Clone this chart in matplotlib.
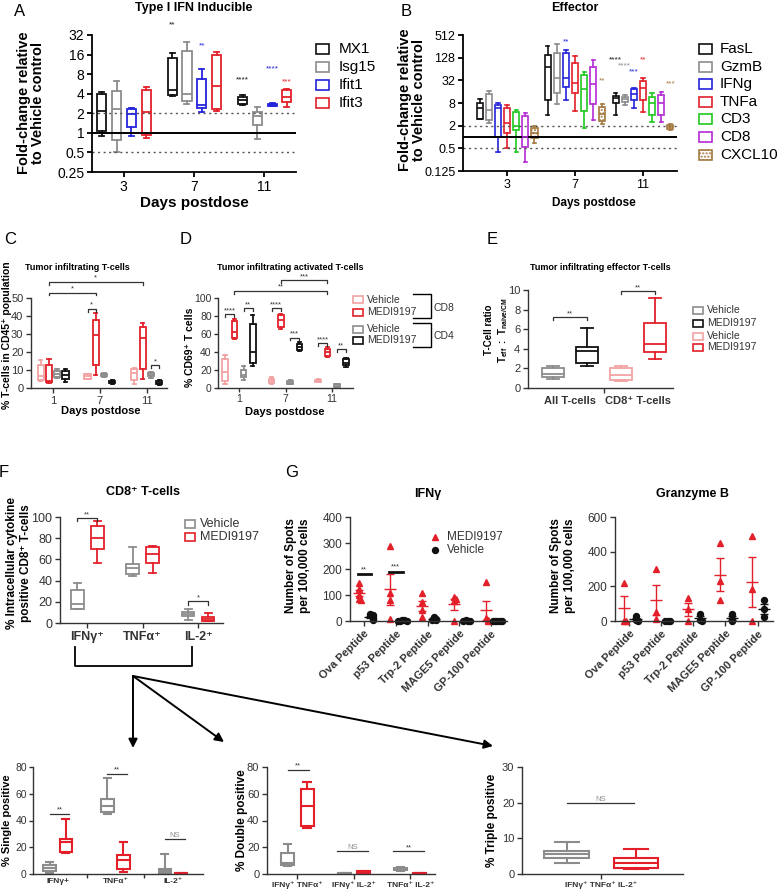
import numpy as np
import matplotlib
matplotlib.use('Agg')
import matplotlib.pyplot as plt
from matplotlib.patches import Rectangle, FancyArrowPatch
from matplotlib.lines import Line2D

plt.rcParams['font.family'] = ['Liberation Sans', 'DejaVu Sans']
plt.rcParams['mathtext.fontset'] = 'custom'
plt.rcParams['mathtext.rm'] = 'Liberation Sans'
plt.rcParams['mathtext.bf'] = 'Liberation Sans:bold'

# ---------------- data ----------------
# box rows: [whisker low, q1, median, q3, whisker high], one row per group
A_days = ['3', '7', '11']
A_genes = ['MX1', 'Isg15', 'Ifit1', 'Ifit3']
A_MX1 = [[0.9, 1.07, 2.15, 3.9, 4.3], [3.7, 3.8, 4.5, 14, 17], [2.7, 2.8, 3.2, 3.6, 3.8]]
A_Isg15 = [[0.5, 0.77, 2.3, 4.4, 6.2], [2.8, 3.1, 4.0, 18, 25], [0.8, 1.3, 1.8, 2.1, 2.5]]
A_Ifit1 = [[0.9, 1.25, 1.95, 2.3, 2.4], [2.1, 2.4, 2.7, 6.8, 9.5], [2.55, 2.6, 2.7, 2.8, 2.85]]
A_Ifit3 = [[0.83, 0.92, 2.1, 4.5, 5.0], [2.2, 2.3, 5.3, 16, 17.5], [2.5, 3.0, 3.6, 4.5, 4.8]]
A_stars = [(1, 0, '**', 45), (1, 2, '**', 22), (2, 0, '****', 6.5), (2, 2, '****', 9.5), (2, 3, '***', 6)]

B_days = ['3', '7', '11']
B_genes = ['FasL', 'GzmB', 'IFNg', 'TNFa', 'CD3', 'CD8', 'CXCL10']
B_FasL = [[3, 3.1, 5.8, 8.2, 10], [3.8, 9.6, 74, 151, 267], [3.8, 7.8, 10.6, 12.5, 14.4]]
B_GzmB = [[2.3, 2.9, 5.2, 13.6, 16.7], [7.4, 15, 36, 167, 290], [7, 8.6, 10.2, 11.8, 13]]
B_IFNg = [[0.4, 1.0, 5.8, 7, 8.2], [9.6, 21, 37, 174, 205], [5.8, 9.6, 14, 18.4, 19.7]]
B_TNFa = [[0.5, 1.3, 2.4, 6, 7], [4.9, 15, 28, 94, 142], [4.7, 9.6, 19.7, 31, 36]]
B_CD3 = [[0.4, 1.5, 2, 4.5, 5.2], [1.76, 4.9, 18.4, 44, 52], [2.5, 3.8, 7.9, 11.8, 14.4]]
B_CD8 = [[0.22, 0.55, 1.0, 3.6, 4.3], [2.8, 7.4, 25, 74, 111], [2.5, 3.8, 7.9, 13, 16]]
B_CXCL10 = [[0.68, 0.92, 1.25, 1.7, 1.96], [2.2, 2.6, 4, 6.1, 7.4], [1.5, 1.6, 1.9, 2.1, 2.2]]
B_stars = [(1, 2, '**', 340), (1, 6, '**', 31), (2, 0, '****', 111), (2, 1, '****', 77),
           (2, 2, '***', 55), (2, 3, '**', 111), (2, 6, '***', 25)]

C_days = ['1', '7', '11']
C_cd8_veh = [[3.7, 4.6, 6.7, 13, 15.7], [4.8, 5.2, 6.7, 7.6, 8], [2, 4.6, 8.5, 10.7, 11.1]]
C_cd8_medi = [[3, 3.5, 4, 13, 15.9], [7, 13, 29.3, 38, 41.7], [4.8, 10.7, 28, 33.9, 36.3]]
C_cd4_veh = [[5.6, 6.3, 7.8, 9.3, 10.4], [6.3, 6.6, 7.2, 7.8, 8.1], [5.6, 6.5, 7.4, 8.3, 8.9]]
C_cd4_medi = [[3.3, 4.8, 7, 9.4, 10.7], [2.2, 2.6, 3.3, 4.1, 4.6], [1.9, 2.2, 2.8, 3.7, 4.3]]

D_days = ['1', '7', '11']
D_cd8_veh = [[5, 7.5, 18, 32, 37], [5, 6, 8, 10, 12], [6.5, 7, 8, 9, 9.5]]
D_cd8_medi = [[55, 56, 62, 74, 77], [66, 68, 76, 81, 82], [35, 36, 39.5, 43, 46]]
D_cd4_veh = [[9, 12, 15, 20, 24], [4, 4.5, 6, 7.5, 9], [1, 1.5, 2.5, 4, 5]]
D_cd4_medi = [[25, 28, 40, 71, 81], [41, 42, 46, 48.5, 51], [23.5, 25.5, 28, 32, 33]]

E_groups = ['All T-cells', 'CD8⁺ T-cells']
E_all_veh = [0.96, 1.13, 1.47, 2.05, 2.25]
E_all_medi = [2.25, 2.6, 3.75, 4.2, 6.1]
E_cd8_veh = [0.7, 0.85, 1.3, 2.0, 2.25]
E_cd8_medi = [3.0, 3.7, 4.45, 6.6, 9.15]

F_cytokines = ['IFNγ⁺', 'TNFα⁺', 'IL-2⁺']
F_veh = [[13, 13.2, 17.6, 31.4, 37.7], [44.3, 46.5, 52, 56, 71.7], [3.1, 6.6, 8.8, 10.4, 13]]
F_medi = [[57, 70, 80.5, 91.5, 96], [47, 56.6, 64.8, 71.7, 73], [1.6, 1.9, 3.5, 5.7, 9.7]]

G_peptides = ['Ova Peptide', 'p53 Peptide', 'Trp-2 Peptide', 'MAGE5 Peptide', 'GP-100 Peptide']
G_ifng_medi = [[148, 125, 100, 86, 80], [290, 106, 80, 9], [106, 74, 41, 15], [92, 86, 76, 0], [151, 10, 3, 0]]
G_ifng_veh = [[28, 22, 15, 8, 3], [3, 2, 1, 0, 0], [15, 8, 4, 2], [2, 1, 0, 0], [1, 0, 0, 0, 0]]
G_gzmb_medi = [[220, 0, 0], [298, 52, 14], [130, 70, 0], [448, 232, 120], [490, 182, 0]]
G_gzmb_veh = [[28, 3, 0], [0, 0, 0], [40, 5, 0], [42, 14, 0], [120, 68, 23]]

S_groups = ['IFNγ+', 'TNFα⁺', 'IL-2⁺']
S_veh = [[1, 2.2, 4.2, 6.7, 8.7], [44.7, 46.4, 50.6, 56, 72], [0.5, 1, 2.2, 3.7, 14.6]]
S_medi = [[15.9, 16.6, 24, 25.8, 41], [1.7, 3.7, 10.4, 14, 23.6], [0.2, 0.3, 0.5, 0.8, 1.0]]
DP_groups = ['IFNγ⁺ TNFα⁺', 'IFNγ⁺ IL-2⁺', 'TNFα⁺ IL-2⁺']
DP_veh = [[6, 6.7, 8.4, 15.9, 22.8], [0.2, 0.3, 0.5, 0.7, 0.9], [2.5, 3, 4, 4.7, 5.5]]
DP_medi = [[34.7, 35.7, 50.9, 63.8, 69], [0.5, 0.8, 1.3, 2, 2.5], [0.2, 0.3, 0.5, 0.7, 0.9]]
TP_groups = ['IFNγ⁺ TNFα⁺ IL-2⁺']
TP_veh = [3.2, 4.4, 5.5, 6.5, 9.1]
TP_medi = [1.3, 1.8, 3.0, 4.6, 7.0]

# ---------------- colours ----------------
BLACK = '#111111'
GREY = '#8c8c8c'
BLUE = '#2424dc'
RED = '#e3202a'
GREEN = '#20c820'
PURPLE = '#b42ad6'
BROWN = '#a67a40'
PINK = '#f2a2a2'
DARK = '#333333'

W, H = 778, 890
fig = plt.figure(figsize=(W / 100, H / 100), dpi=100)


def px_axes(l, t, r, b, fs, color='black', lw=1.2, tlen=3.5, pad=2):
    ax = fig.add_axes([l / W, 1 - b / H, (r - l) / W, (b - t) / H])
    for s in ['top', 'right']:
        ax.spines[s].set_visible(False)
    for s in ['left', 'bottom']:
        ax.spines[s].set_linewidth(lw)
        ax.spines[s].set_color(color)
    ax.tick_params(labelsize=fs, colors=color, width=lw, length=tlen, pad=pad)
    return ax


def T(x, y, s, **kw):
    kw.setdefault('ha', 'center')
    kw.setdefault('va', 'center')
    return fig.text(x / W, 1 - y / H, s, **kw)


def boxes(ax, rows, pos, color, width, lw=1.3, hatch=None):
    stats = [dict(whislo=r[0], q1=r[1], med=r[2], q3=r[3], whishi=r[4]) for r in rows]
    ax.bxp(stats, positions=pos, widths=width, capwidths=width * 0.55, showfliers=False,
           patch_artist=True, manage_ticks=False,
           boxprops=dict(facecolor='none', edgecolor=color, linewidth=lw, hatch=hatch),
           medianprops=dict(color=color, linewidth=lw),
           whiskerprops=dict(color=color, linewidth=lw),
           capprops=dict(color=color, linewidth=lw))


def bracket(ax, x1, x2, y, s, drop, fs=5.5, color=DARK, lw=0.9, tcolor=None):
    ax.plot([x1, x1, x2, x2], [y - drop, y, y, y - drop], color=color, lw=lw, clip_on=False)
    ax.text((x1 + x2) / 2, y, s, ha='center', va='bottom', fontsize=fs,
            color=tcolor or color, clip_on=False)


def key_box(x, y, w, h, color, hatch=None, lw=1.2):
    fig.add_artist(Rectangle((x / W, 1 - (y + h / 2) / H), w / W, h / H, transform=fig.transFigure,
                             facecolor='none', edgecolor=color, lw=lw, hatch=hatch))


def key_marker(x, y, marker, ms, color):
    fig.add_artist(Line2D([x / W], [1 - y / H], transform=fig.transFigure, ls='none',
                          marker=marker, ms=ms, color=color))


def fig_line(xs, ys, lw=1.3):
    fig.add_artist(Line2D([x / W for x in xs], [1 - y / H for y in ys], transform=fig.transFigure,
                          color='black', lw=lw))


def fig_arrow(p0, p1):
    fig.add_artist(FancyArrowPatch((p0[0] / W, 1 - p0[1] / H), (p1[0] / W, 1 - p1[1] / H),
                                   transform=fig.transFigure, arrowstyle='-|>', mutation_scale=13,
                                   lw=1.4, color='black', shrinkA=0, shrinkB=0))


def log2_axis(ax, ticks, labels):
    ax.set_yscale('log', base=2)
    ax.set_yticks(ticks)
    ax.set_yticklabels(labels)
    ax.yaxis.set_minor_locator(matplotlib.ticker.NullLocator())


# ---------------- A ----------------
axA = px_axes(92, 35, 296, 172, 10, lw=1.3)
A_series = [A_MX1, A_Isg15, A_Ifit1, A_Ifit3]
A_colors = [BLACK, GREY, BLUE, RED]
A_off = [-0.31, -0.1, 0.11, 0.32]
for ser, c, o in zip(A_series, A_colors, A_off):
    boxes(axA, ser, [g + o for g in range(3)], c, 0.13)
for g, i, s, y in A_stars:
    axA.text(g + A_off[i], y, s, ha='center', va='center', fontsize=6, color=A_colors[i], clip_on=False)
axA.axhline(1, color='black', lw=1.4)
for yv in (2, 0.5):
    axA.axhline(yv, color='#555555', lw=1.0, ls=(0, (1.5, 2.5)))
log2_axis(axA, [0.25, 0.5, 1, 2, 4, 8, 16, 32], ['0.25', '0.5', '1', '2', '4', '8', '16', '32'])
axA.set_ylim(0.25, 32)
axA.set_xlim(-0.45, 2.45)
axA.set_xticks(range(3))
axA.set_xticklabels(A_days)
T(194, 8, 'Type I IFN Inducible', fontsize=9, fontweight='bold')
T(31, 103, 'Fold-change relative\nto Vehicle control', rotation=90, fontsize=10.5,
  fontweight='bold', linespacing=1.05)
T(194, 203, 'Days postdose', fontsize=11, fontweight='bold')
for k, (name, c) in enumerate(zip(A_genes, A_colors)):
    yk = 49 + k * 18
    key_box(316, yk, 13, 10, c)
    T(339, yk, name, fontsize=11, ha='left')

# ---------------- B ----------------
axB = px_axes(463, 35, 677, 171, 9, lw=1.3)
B_series = [B_FasL, B_GzmB, B_IFNg, B_TNFa, B_CD3, B_CD8, B_CXCL10]
B_colors = [BLACK, GREY, BLUE, RED, GREEN, PURPLE, BROWN]
B_off = [(i - 3) * 0.134 for i in range(7)]
for i, (ser, c, o) in enumerate(zip(B_series, B_colors, B_off)):
    boxes(axB, ser, [g + o for g in range(3)], c, 0.09, lw=1.2, hatch='.....' if i == 6 else None)
for g, i, s, y in B_stars:
    axB.text(g + B_off[i], y, s, ha='center', va='center', fontsize=6, color=B_colors[i], clip_on=False)
axB.axhline(1, color='black', lw=1.4)
for yv in (2, 0.5):
    axB.axhline(yv, color='#555555', lw=1.0, ls=(0, (1.5, 2.5)))
log2_axis(axB, [0.125, 0.5, 2, 8, 32, 128, 512], ['0.125', '0.5', '2', '8', '32', '128', '512'])
axB.set_ylim(0.125, 512)
axB.set_xlim(-0.65, 2.5)
axB.set_xticks(range(3))
axB.set_xticklabels(B_days)
T(575, 8, 'Effector', fontsize=9, fontweight='bold')
T(412, 100, 'Fold-change relative\nto Vehicle control', rotation=90, fontsize=10.5,
  fontweight='bold', linespacing=1.05)
T(594, 203, 'Days postdose', fontsize=8.5, fontweight='bold')
for k, (name, c) in enumerate(zip(B_genes, B_colors)):
    yk = 49 + k * 17.6
    key_box(699, yk, 13, 10, c, hatch='.....' if k == 6 else None)
    T(720, yk, name, fontsize=11, ha='left')

# ---------------- C ----------------
axC = px_axes(31, 298, 167, 388, 8, color=DARK, lw=1.0)
C_series = [C_cd8_veh, C_cd8_medi, C_cd4_veh, C_cd4_medi]
C_colors = [PINK, RED, GREY, BLACK]
C_off = [-0.265, -0.088, 0.088, 0.265]
for ser, c, o in zip(C_series, C_colors, C_off):
    boxes(axC, ser, [g + o for g in range(3)], c, 0.13, lw=1.3)
bracket(axC, C_off[1], 2 + C_off[1], 59, '*', 1.5)
bracket(axC, C_off[1], 1 + C_off[1], 53, '*', 1.5)
bracket(axC, 1 + C_off[0], 1 + C_off[1], 44, '*', 1.5)
bracket(axC, 2 + C_off[2], 2 + C_off[3], 12.6, '*', 1.5)
axC.set_ylim(0, 50)
axC.set_yticks(range(0, 51, 10))
axC.set_xlim(-0.47, 2.43)
axC.set_xticks(range(3))
axC.set_xticklabels(C_days)
T(77, 268, 'Tumor infiltrating T-cells', fontsize=6.5, fontweight='bold')
T(7, 335, '% T-cells in CD45⁺ population', rotation=90, fontsize=7.5, fontweight='bold')
T(101, 411, 'Days postdose', fontsize=8, fontweight='bold')

# ---------------- D ----------------
axD = px_axes(218, 298, 353, 388, 7.5, color=DARK, lw=1.0, tlen=3, pad=1.5)
D_series = [D_cd8_veh, D_cd8_medi, D_cd4_veh, D_cd4_medi]
D_colors = [PINK, RED, GREY, BLACK]
D_off = [-0.3, -0.1, 0.1, 0.3]
for ser, c, o in zip(D_series, D_colors, D_off):
    boxes(axD, ser, [g + o for g in range(3)], c, 0.12, lw=1.3)
bracket(axD, 1 + D_off[1], 2 + D_off[1], 120, '***', 3)
bracket(axD, D_off[1], 2 + D_off[1], 108, '**', 3)
for g, pair, y, s in [(0, (0, 1), 82, '****'), (0, (2, 3), 89, '**'), (1, (0, 1), 89, '****'),
                      (1, (2, 3), 56, '***'), (2, (0, 1), 50, '****'), (2, (2, 3), 43, '**')]:
    bracket(axD, g + D_off[pair[0]], g + D_off[pair[1]], y, s, 3)
axD.set_ylim(0, 100)
axD.set_yticks(range(0, 101, 20))
axD.set_xlim(-0.45, 2.45)
axD.set_xticks(range(3))
axD.set_xticklabels(D_days)
T(290, 268, 'Tumor infiltrating activated T-cells', fontsize=6.5, fontweight='bold')
T(190, 347, '% CD69⁺ T cells', rotation=90, fontsize=7.5, fontweight='bold')
T(285, 412, 'Days postdose', fontsize=8, fontweight='bold')
for name, c, yk in zip(['Vehicle', 'MEDI9197', 'Vehicle', 'MEDI9197'],
                       [PINK, RED, GREY, BLACK], [300, 312, 329, 340]):
    key_box(353, yk, 10, 7, c)
    T(367, yk, name, fontsize=7.5, ha='left', color=DARK)
fig_line([413, 431, 431, 413], [294, 294, 318, 318], lw=1.0)
fig_line([413, 431, 431, 413], [323, 323, 347, 347], lw=1.0)
T(433, 308, 'CD8', fontsize=7.5, ha='left', color=DARK)
T(433, 336, 'CD4', fontsize=7.5, ha='left', color=DARK)

# ---------------- E ----------------
axE = px_axes(528, 290, 673, 388, 8, color=DARK, lw=1.0)
E_rows = [E_all_veh, E_all_medi, E_cd8_veh, E_cd8_medi]
E_colors = [GREY, BLACK, PINK, RED]
for k, (r, c) in enumerate(zip(E_rows, E_colors)):
    boxes(axE, [r], [k], c, 0.65, lw=1.3)
bracket(axE, 0, 1, 7.2, '**', 0.3)
bracket(axE, 2, 3, 9.9, '**', 0.3)
axE.set_ylim(0, 10)
axE.set_yticks(range(0, 11, 2))
axE.set_xlim(-0.74, 3.53)
axE.set_xticks([1.5])
axE.set_xticklabels([''])
axE.set_xticks([0.5, 2.5], minor=True)
axE.set_xticklabels(E_groups, minor=True, fontsize=8, fontweight='bold')
axE.tick_params(axis='x', which='minor', length=0, pad=6, colors=DARK)
T(600, 268, 'Tumor infiltrating effector T-cells', fontsize=6.5, fontweight='bold')
T(497, 330, 'T-Cell ratio\n' + r'$\mathbf{T_{eff}\ :\ T_{naive/CM}}$', rotation=90, fontsize=7,
  fontweight='bold', linespacing=1.2)
for name, c, yk in zip(['Vehicle', 'MEDI9197', 'Vehicle', 'MEDI9197'],
                       [GREY, BLACK, PINK, RED], [310, 323, 336, 347]):
    key_box(693, yk, 10, 7, c)
    T(707, yk, name, fontsize=7.5, ha='left', color=DARK)

# ---------------- F ----------------
axF = px_axes(60, 517, 223, 623, 9, color=DARK, lw=1.0)
boxes(axF, F_veh, [g - 0.18 for g in range(3)], GREY, 0.23, lw=1.3)
boxes(axF, F_medi, [g + 0.18 for g in range(3)], RED, 0.23, lw=1.3)
bracket(axF, -0.18, 0.18, 99, '**', 3)
bracket(axF, 1.82, 2.18, 20.4, '*', 3)
axF.set_ylim(0, 100)
axF.set_yticks(range(0, 101, 20))
axF.set_xlim(-0.49, 2.45)
axF.set_xticks(range(3))
axF.set_xticklabels(F_cytokines, fontweight='bold', fontsize=9)
T(143, 492, 'CD8⁺ T-cells', fontsize=9, fontweight='bold')
T(19, 563, '% Intracellular cytokine\npositive CD8⁺ T-cells', rotation=90, fontsize=8.5,
  fontweight='bold', linespacing=1.3)
key_box(185, 524, 10, 8, GREY)
T(200, 524, 'Vehicle', fontsize=9, ha='left', color=DARK)
key_box(185, 537, 10, 8, RED)
T(200, 537, 'MEDI9197', fontsize=9, ha='left', color=DARK)

# bracket and arrows below F
fig_line([75, 75, 192, 192], [647, 666, 666, 647])
fig_arrow((133, 676), (133, 748))
fig_arrow((133, 676), (224, 742))
fig_arrow((133, 676), (493, 746))


# ---------------- G ----------------
def dodge(vals, step, tol):
    offs, placed = [], []
    for v in vals:
        k = sum(1 for p in placed if abs(p - v) < tol)
        placed.append(v)
        offs.append(((k + 1) // 2) * step * (1 if k % 2 else -1) if k else 0.0)
    return np.array(offs)


def spots(ax, medi, veh, tol):
    for g, (m, v) in enumerate(zip(medi, veh)):
        for vals, dx, c, mk, ms in [(m, -0.17, RED, '^', 5), (v, 0.2, BLACK, 'o', 4.3)]:
            vals = np.array(vals, float)
            x = g + dx
            ax.plot(x + dodge(vals, 0.07, tol), vals, ls='none', marker=mk, ms=ms, color=c, clip_on=False)
            mean = vals.mean()
            sem = vals.std(ddof=1) / np.sqrt(len(vals))
            ax.hlines(mean, x - 0.19, x + 0.19, color=c, lw=1)
            ax.errorbar(x, mean, yerr=sem, fmt='none', ecolor=c, elinewidth=1, capsize=3, capthick=1)


axG1 = px_axes(350, 517, 507, 621, 8.5, color=DARK, lw=1.0)
spots(axG1, G_ifng_medi, G_ifng_veh, 8)
axG1.plot([-0.2, 0.22], [180, 180], color=BLACK, lw=2)
axG1.text(0.0, 183, '**', ha='center', va='bottom', fontsize=5.5, color=DARK)
axG1.plot([0.8, 1.22], [190, 190], color=BLACK, lw=2)
axG1.text(1.0, 193, '***', ha='center', va='bottom', fontsize=5.5, color=DARK)
axG1.set_ylim(0, 400)
axG1.set_yticks(range(0, 401, 100))
axG1.set_xlim(-0.44, 4.5)
axG1.set_xticks(range(5))
axG1.set_xticklabels(G_peptides, rotation=45, ha='right', rotation_mode='anchor',
                     fontsize=8, fontweight='bold')
T(428, 494, 'IFNγ', fontsize=9, fontweight='bold')
T(298, 566, 'Number of Spots\nper 100,000 cells', rotation=90, fontsize=8.5, fontweight='bold',
  linespacing=1.2)
key_marker(435, 537, '^', 5, RED)
T(447, 537, 'MEDI9197', fontsize=8.5, ha='left', color=DARK)
key_marker(435, 550, 'o', 4.3, BLACK)
T(447, 550, 'Vehicle', fontsize=8.5, ha='left', color=DARK)

axG2 = px_axes(615, 517, 773, 621, 8.5, color=DARK, lw=1.0)
spots(axG2, G_gzmb_medi, G_gzmb_veh, 12)
axG2.set_ylim(0, 600)
axG2.set_yticks(range(0, 601, 200))
axG2.set_xlim(-0.44, 4.48)
axG2.set_xticks(range(5))
axG2.set_xticklabels(G_peptides, rotation=45, ha='right', rotation_mode='anchor',
                     fontsize=8, fontweight='bold')
T(693, 494, 'Granzyme B', fontsize=9, fontweight='bold')
T(563, 566, 'Number of Spots\nper 100,000 cells', rotation=90, fontsize=8.5, fontweight='bold',
  linespacing=1.2)


# ---------------- bottom row ----------------
def sig_line(ax, x1, x2, y, s, tcolor=DARK, fs=5.5):
    ax.plot([x1, x2], [y, y], color=DARK, lw=0.9, clip_on=False)
    ax.text((x1 + x2) / 2, y, s, ha='center', va='bottom', fontsize=fs, color=tcolor, clip_on=False)


axS = px_axes(33, 767, 203, 874, 7.5, color=DARK, lw=1.0, tlen=3, pad=1.5)
boxes(axS, S_veh, [g - 0.14 for g in range(3)], GREY, 0.22, lw=1.5)
boxes(axS, S_medi, [g + 0.14 for g in range(3)], RED, 0.22, lw=1.5)
sig_line(axS, -0.14, 0.2, 45, '**')
sig_line(axS, 0.86, 1.2, 75, '**')
sig_line(axS, 1.86, 2.2, 26, 'NS', tcolor=GREY)
axS.set_ylim(0, 80)
axS.set_yticks(range(0, 81, 20))
axS.set_xlim(-0.43, 2.52)
axS.set_xticks([0.5, 1.5])
axS.set_xticklabels(['', ''])
axS.set_xticks(range(3), minor=True)
axS.set_xticklabels(S_groups, minor=True, fontsize=6, fontweight='bold')
axS.tick_params(axis='x', which='minor', length=0, pad=3, colors=DARK)
T(7.5, 820, '% Single positive', rotation=90, fontsize=8, fontweight='bold')

axDP = px_axes(267, 767, 435, 874, 8, color=DARK, lw=1.0)
boxes(axDP, DP_veh, [g - 0.17 for g in range(3)], GREY, 0.23, lw=1.5)
boxes(axDP, DP_medi, [g + 0.17 for g in range(3)], RED, 0.23, lw=1.5)
sig_line(axDP, -0.17, 0.2, 78, '**')
sig_line(axDP, 0.7, 1.25, 17, 'NS', tcolor=GREY)
sig_line(axDP, 1.7, 2.25, 17, '**')
axDP.set_ylim(0, 80)
axDP.set_yticks(range(0, 81, 20))
axDP.set_xlim(-0.54, 2.44)
axDP.set_xticks(range(3))
axDP.set_xticklabels(DP_groups, fontsize=6, fontweight='bold')
T(242, 820, '% Double positive', rotation=90, fontsize=8.5, fontweight='bold')

axTP = px_axes(522, 767, 683, 874, 8, color=DARK, lw=1.0)
boxes(axTP, [TP_veh], [0], GREY, 0.65, lw=1.5)
boxes(axTP, [TP_medi], [1], RED, 0.65, lw=1.5)
sig_line(axTP, 0, 0.97, 19.8, 'NS', tcolor=GREY)
axTP.set_ylim(0, 30)
axTP.set_yticks(range(0, 31, 10))
axTP.set_xlim(-0.65, 1.68)
axTP.set_xticks([0.5])
axTP.set_xticklabels(TP_groups, fontsize=6, fontweight='bold')
T(492, 820, '% Triple positive', rotation=90, fontsize=8.5, fontweight='bold')

# panel letters
for s, x, y in [('A', 20, 12), ('B', 406, 12), ('C', 10, 239), ('D', 186, 239), ('E', 492, 239),
                ('F', 4, 472), ('G', 292, 472)]:
    T(x, y, s, fontsize=12)

fig.savefig('out.png', dpi=100)
